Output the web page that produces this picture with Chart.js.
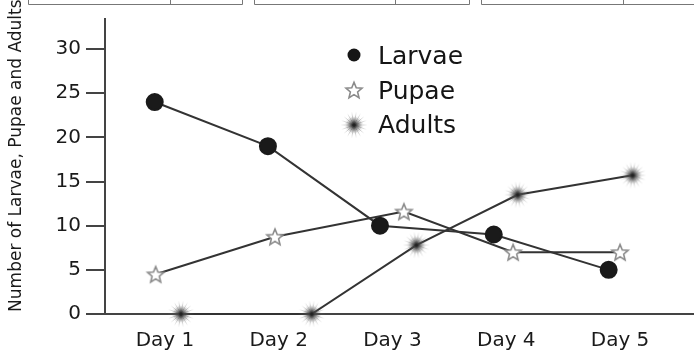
<!DOCTYPE html>
<html>
<head>
<meta charset="utf-8">
<script src="https://cdn.jsdelivr.net/npm/chart.js@4.4.0/dist/chart.umd.min.js"></script>
<style>
html, body { margin:0; padding:0; background:#fff; }
#wrap { width:694px; height:354px; }
</style>
</head>
<body>
<div id="wrap"><canvas id="chart" width="694" height="354"></canvas></div>
<script>
var days = ["Day 1", "Day 2", "Day 3", "Day 4", "Day 5"];
var larvae = [24, 19, 10, 9, 5];
var pupae = [4.5, 8.75, 11.6, 7, 7];
var adults = [0, 0, 7.8, 13.5, 15.7];
// where each series was plotted along the day axis (the original is hand placed)
var larvaeDay = [0.91, 1.905, 2.89, 3.89, 4.9];
var pupaeDay = [0.918, 1.967, 3.1, 4.06, 5.0];
var adultsDay = [1.14, 2.29, 3.21, 4.1, 5.11];
var yTicks = [0, 5, 10, 15, 20, 25, 30];

// star outline marker
function make_star(size, outer, inner){
	var c = document.createElement('canvas');
	c.width = size; c.height = size;
	var g = c.getContext('2d');
	var m = size / 2;
	g.beginPath();
	for (var i = 0; i < 10; i++){
		var r = (i % 2) ? inner : outer;
		var a = -Math.PI / 2 + i * Math.PI / 5;
		var px = m + Math.cos(a) * r, py = m + Math.sin(a) * r + 0.8;
		if (i === 0) g.moveTo(px, py); else g.lineTo(px, py);
	}
	g.closePath();
	g.fillStyle = '#fff';
	g.fill();
	g.strokeStyle = '#8a8a8a';
	g.lineWidth = 1.6;
	g.stroke();
	return c;
}

// fuzzy starburst marker
function make_burst(size){
	var c = document.createElement('canvas');
	c.width = size; c.height = size;
	var g = c.getContext('2d');
	var m = size / 2;
	var glow = g.createRadialGradient(m, m, 0, m, m, m * 0.6);
	glow.addColorStop(0, 'rgba(60,60,60,0.55)');
	glow.addColorStop(1, 'rgba(60,60,60,0)');
	g.fillStyle = glow;
	g.fillRect(0, 0, size, size);
	for (var i = 0; i < 36; i++){
		var a = i * Math.PI * 2 / 36;
		var len = m * (i % 2 ? 0.7 : 0.98);
		var ex = m + Math.cos(a) * len, ey = m + Math.sin(a) * len;
		var lg = g.createLinearGradient(m, m, ex, ey);
		lg.addColorStop(0, 'rgba(40,40,40,0.9)');
		lg.addColorStop(1, 'rgba(140,140,140,0)');
		g.strokeStyle = lg;
		g.lineWidth = 1;
		g.beginPath(); g.moveTo(m, m); g.lineTo(ex, ey); g.stroke();
	}
	g.fillStyle = '#222';
	g.beginPath(); g.arc(m, m, 1.6, 0, Math.PI * 2); g.fill();
	return c;
}

var starImg = make_star(22, 8.5, 3.8);
var burstImg = make_burst(28);
var legendStar = make_star(20, 8.5, 3.8);

function pts(xs, ys){
	return ys.map(function(v, i){ return {x: xs[i], y: v}; });
}

var side_legend = {
	id: 'sideLegend',
	beforeDraw: function(chart){
		// edges of the cut-off boxes at the top
		var ctx = chart.ctx;
		ctx.save();
		ctx.strokeStyle = '#777';
		ctx.lineWidth = 1;
		[[28, 170, 242], [254, 395, 469], [481, 623, 700]].forEach(function(b){
			ctx.beginPath();
			ctx.moveTo(b[0] + 0.5, 0); ctx.lineTo(b[0] + 0.5, 4.5); ctx.lineTo(b[2] + 0.5, 4.5); ctx.lineTo(b[2] + 0.5, 0);
			ctx.moveTo(b[1] + 0.5, 0); ctx.lineTo(b[1] + 0.5, 4.5);
			ctx.stroke();
		});
		ctx.restore();
	},
	afterDraw: function(chart){
		var ctx = chart.ctx;
		ctx.save();
		ctx.font = '25px "DejaVu Sans"';
		ctx.fillStyle = '#151515';
		ctx.textBaseline = 'alphabetic';
		chart.data.datasets.forEach(function(ds, i){
			var my = 55 + i * 35;
			if (i === 0){
				ctx.beginPath(); ctx.arc(354, my, 6.5, 0, Math.PI * 2); ctx.fill();
			} else if (i === 1){
				ctx.drawImage(legendStar, 354 - 10, my - 10);
			} else {
				ctx.drawImage(burstImg, 354 - 14, my - 14);
			}
			ctx.fillText(ds.label, 378, 64 + i * 34.5);
		});
		ctx.restore();
	}
};

var chart_element = document.getElementById('chart');
var chart_line = new Chart(chart_element, {
	type: 'line',
	data: {
		datasets: [{
			label: 'Larvae',
			data: pts(larvaeDay, larvae),
			borderColor: '#333',
			borderWidth: 2,
			pointStyle: 'circle',
			pointRadius: 8,
			pointBackgroundColor: '#1a1a1a',
			pointBorderColor: '#1a1a1a',
			tension: 0,
			clip: false
		}, {
			label: 'Pupae',
			data: pts(pupaeDay, pupae),
			borderColor: '#333',
			borderWidth: 2,
			pointStyle: starImg,
			tension: 0,
			clip: false
		}, {
			label: 'Adults',
			data: pts(adultsDay, adults),
			borderColor: '#333',
			borderWidth: 2,
			pointStyle: burstImg,
			tension: 0,
			clip: false
		}]
	},
	options: {
		responsive: false,
		animation: false,
		layout: { autoPadding: false, padding: { top: 19, right: 0, left: 0, bottom: 0 } },
		plugins: { legend: { display: false }, tooltip: { enabled: false } },
		scales: {
			x: {
				type: 'linear',
				min: 0.473,
				max: 5.65,
				afterBuildTicks: function(scale){
					scale.ticks = days.map(function(d, i){ return {value: i + 1}; });
				},
				afterFit: function(scale){
					scale.height = 40;
					scale.paddingLeft = 0;
					scale.paddingRight = 0;
				},
				grid: { display: false, drawTicks: false },
				border: { display: true, color: '#444', width: 2 },
				ticks: {
					padding: 15,
					color: '#1a1a1a',
					font: { family: 'DejaVu Sans', size: 20 },
					callback: function(v){ return days[Math.round(v) - 1]; }
				}
			},
			y: {
				min: 0,
				max: 33.4,
				afterBuildTicks: function(scale){
					scale.ticks = yTicks.map(function(v){ return {value: v}; });
				},
				afterFit: function(scale){ scale.width = 105; },
				grid: { drawOnChartArea: false, drawTicks: true, tickLength: 19, color: '#444', lineWidth: 2 },
				border: { display: true, color: '#444', width: 2 },
				ticks: { padding: 5, color: '#1a1a1a', font: { family: 'DejaVu Sans', size: 20 } },
				title: {
					display: true,
					text: '    Number of Larvae, Pupae and Adults',
					color: '#1a1a1a',
					font: { family: 'DejaVu Sans', size: 17 },
					padding: { top: 6, bottom: 0 }
				}
			}
		}
	},
	plugins: [side_legend]
});
</script>
</body>
</html>
